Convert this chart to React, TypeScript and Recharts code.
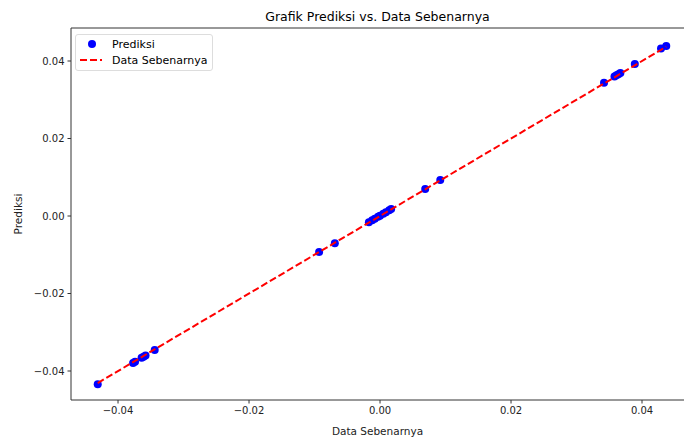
import React from 'react';
import { ComposedChart, Scatter, XAxis, YAxis, ReferenceLine, Label } from 'recharts';

const actualValues = [-0.0431, -0.0377, -0.0374, -0.0364, -0.0361, -0.0358, -0.0344, -0.0093, -0.0069,
  -0.0017, -0.0012, -0.0008, -0.0003, 0.0, 0.0005, 0.0009, 0.0014, 0.0017,
  0.0069, 0.0092, 0.0342, 0.0358, 0.0361, 0.0364, 0.0367, 0.0389, 0.0429, 0.0437];
const predictedValues = [-0.0434, -0.0379, -0.0376, -0.0366, -0.0363, -0.036, -0.0346, -0.0093, -0.0070,
  -0.0016, -0.0011, -0.0007, -0.0002, 0.0001, 0.0006, 0.0010, 0.0015, 0.0018,
  0.0070, 0.0093, 0.0344, 0.0360, 0.0363, 0.0366, 0.0369, 0.0392, 0.0432, 0.0439];
const lineX = [-0.0431, 0.0437];
const xTicks = [-0.04, -0.02, 0.0, 0.02, 0.04];
const yTicks = [-0.04, -0.02, 0.0, 0.02, 0.04];

const scatterData = actualValues.map((x, i) => ({ x, y: predictedValues[i] }));
const lineData = lineX.map((x) => ({ x, y: x }));

const fmt = (v: number) => {
  const s = Math.abs(v).toFixed(2);
  return v < -1e-9 ? '\u2212' + s : s;
};

const FONT = 'DejaVu Sans';

const LegendBox = () => (
  <div style={{ position: 'absolute', left: 75, top: 34, width: 138, height: 37, border: '1px solid #ddd', borderRadius: 3, background: 'rgba(255,255,255,0.8)', boxSizing: 'border-box' }}>
    <svg width={138} height={37} style={{ position: 'absolute', left: -1, top: -1 }}>
      <circle cx={17} cy={10} r={4} fill="blue" />
      <line x1={5} x2={27} y1={26} y2={26} stroke="red" strokeWidth={2} strokeDasharray="7 3" />
      <text x={37} y={14} fontFamily={FONT} fontSize={11} fill="#000">Prediksi</text>
      <text x={37} y={30} fontFamily={FONT} fontSize={11} fill="#000">Data Sebenarnya</text>
    </svg>
  </div>
);

const NoShape = () => null;

export default function App() {
  return (
    <div style={{ position: 'absolute', left: 0, top: 0, width: 684, height: 437, background: '#fff' }}>
      <div style={{ position: 'absolute', left: 0, top: 9, width: 755, textAlign: 'center', fontFamily: FONT, fontSize: 12.5, color: '#000' }}>
        Grafik Prediksi vs. Data Sebenarnya
      </div>
      <ComposedChart width={684} height={437} margin={{ top: 28, right: 0, bottom: 0, left: 0 }}>
        <XAxis
          type="number"
          dataKey="x"
          domain={[-0.04718, 0.04641]}
          ticks={xTicks}
          tickFormatter={fmt}
          allowDataOverflow
          height={37}
          stroke="#333"
          tickSize={3.5}
          tickMargin={3}
          tick={{ fill: '#222', fontSize: 10, fontFamily: FONT }}
        >
          <Label value="Data Sebenarnya" position="insideBottom" offset={2} style={{ fill: '#222', fontSize: 10.5, fontFamily: FONT }} />
        </XAxis>
        <YAxis
          type="number"
          dataKey="y"
          domain={[-0.04748, 0.04852]}
          ticks={yTicks}
          tickFormatter={fmt}
          allowDataOverflow
          width={71}
          stroke="#333"
          tickSize={3.5}
          tickMargin={3}
          tick={{ fill: '#222', fontSize: 10, fontFamily: FONT }}
        >
          <Label value="Prediksi" angle={-90} position="insideLeft" offset={18} style={{ fill: '#222', fontSize: 10.5, fontFamily: FONT, textAnchor: 'middle' }} />
        </YAxis>
        <ReferenceLine y={0.04852} stroke="#333" ifOverflow="extendDomain" />
        <Scatter data={scatterData} fill="blue" isAnimationActive={false} shape={(p: any) => <circle cx={p.cx} cy={p.cy} r={4} fill="blue" />} />
        <Scatter data={lineData} line={{ stroke: 'red', strokeWidth: 2, strokeDasharray: '7 3' }} shape={NoShape as any} isAnimationActive={false} />
      </ComposedChart>
      <LegendBox />
    </div>
  );
}
